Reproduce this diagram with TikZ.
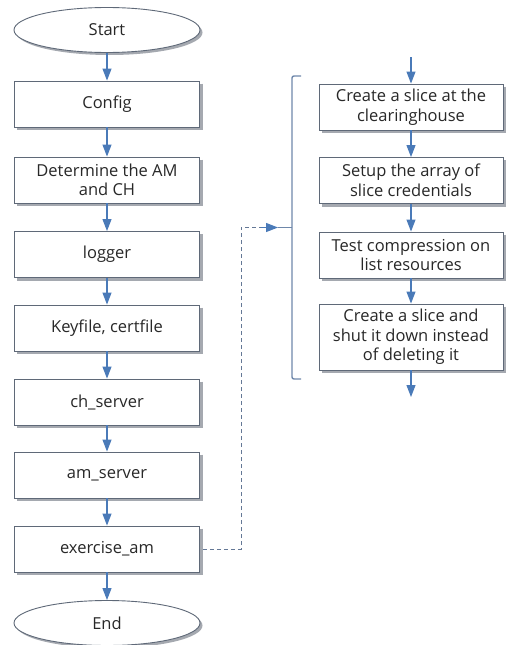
\documentclass[tikz,border=0pt]{standalone}
\usepackage{fontspec}
\setmainfont{Open Sans}
\usetikzlibrary{arrows.meta,shapes.geometric,positioning}
\definecolor{boxline}{RGB}{95,105,120}
\definecolor{arrowblue}{RGB}{74,122,184}
\definecolor{bracketcol}{RGB}{110,135,170}
\definecolor{dashcol}{RGB}{100,120,150}
\definecolor{txt}{RGB}{40,40,40}
\definecolor{shadowcol}{RGB}{165,169,176}
\tikzset{
  stepbox/.style={draw=boxline, line width=0.9pt, fill=white, minimum width=185pt,
    minimum height=46pt, inner sep=2pt, align=center, text=txt, font=\fontsize{16.5}{19.5}\selectfont},
  rbox/.style={stepbox, minimum width=184pt},
  term/.style={draw=boxline, line width=0.9pt, fill=white, ellipse, minimum width=186pt,
    minimum height=45pt, inner sep=0pt, text=txt, font=\fontsize{16.5}{19.5}\selectfont},
  shadowline/.style={draw=shadowcol, line width=2.2pt},
  flow/.style={draw=arrowblue, line width=1.1pt, -{Triangle[length=12pt,width=9pt,color=arrowblue]}},
}
\begin{document}
\begin{tikzpicture}[x=1pt,y=-1pt]
\useasboundingbox (0,0) rectangle (509,645);
% ellipse shadows
\fill[shadowcol] (109.5,32.5) ellipse [x radius=93, y radius=22.5];
\fill[shadowcol] (109.5,625.5) ellipse [x radius=93, y radius=22.5];
% left column
\node[term] (start) at (107,30) {Start};
\node[stepbox] (config) at (107,104) {Config};
\node[stepbox] (determine) at (107,180) {Determine the AM\\and CH};
\node[stepbox] (logger) at (107,254.5) {logger};
\node[stepbox] (keyfile) at (107,328) {Keyfile, certfile};
\node[stepbox] (ch) at (107,402) {ch\_server};
\node[stepbox] (am) at (107,475) {am\_server};
\node[stepbox] (ex) at (107,549) {exercise\_am};
\node[term] (end) at (107,623) {End};
% right column
\node[rbox] (r1) at (411,107) {Create a slice at the\\clearinghouse};
\node[rbox] (r2) at (411,180.5) {Setup the array of\\slice credentials};
\node[rbox] (r3) at (411,255) {Test compression on\\list resources};
\node[rbox, minimum height=66pt] (r4) at (411,337) {Create a slice and\\shut it down instead\\of deleting it};
% box shadows
\foreach \n in {config,determine,logger,keyfile,ch,am,ex,r1,r2,r3,r4}
  \draw[shadowline] ([xshift=1.6pt,yshift=-3pt]\n.north east) -- ([xshift=1.6pt,yshift=-1.6pt]\n.south east) -- ([xshift=3pt,yshift=-1.6pt]\n.south west);
\foreach \a/\b in {start/config,config/determine,determine/logger,logger/keyfile,keyfile/ch,ch/am,am/ex,ex/end}
  \draw[flow] (\a) -- (\b);
\coordinate (rin) at (411,57);
\coordinate (rout) at (411,397);
\draw[flow] (rin) -- (r1);
\draw[flow] (r1) -- (r2);
\draw[flow] (r2) -- (r3);
\draw[flow] (r3) -- (r4);
\draw[flow] (r4) -- (rout);
% bracket
\coordinate (btop) at (301,76);
\coordinate (bbot) at (301,379);
\coordinate (bmid) at (292,227.5);
\coordinate (btip) at (278,227.5);
\coordinate (dend) at (261,227.5);
\draw[bracketcol, line width=1.4pt, rounded corners=2pt] (btop) -- (292,76) -- (292,379) -- (bbot);
\draw[bracketcol, line width=1.4pt] (bmid) -- (btip);
% dashed connector
\draw[dashcol, line width=1pt, dash pattern=on 4pt off 3pt]
  ([xshift=3pt]ex.east) -- (241,549) -- (241,227.5) -- (dend);
\draw[flow] (dend) -- (btip);
\end{tikzpicture}
\end{document}
